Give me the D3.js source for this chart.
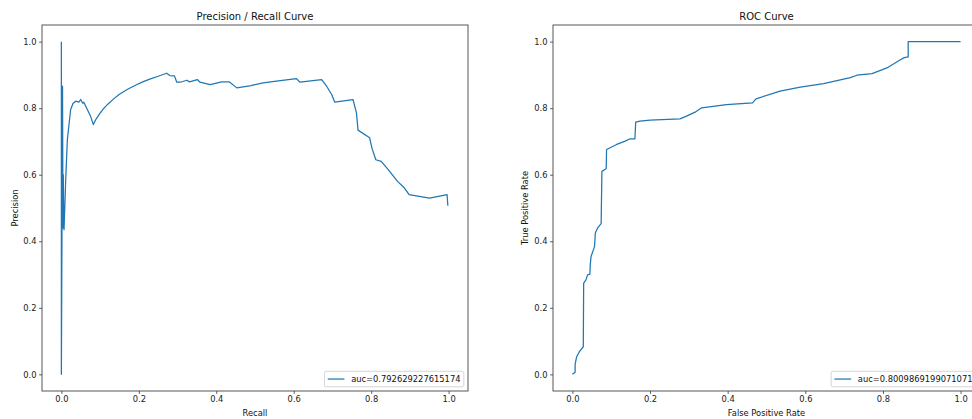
<!DOCTYPE html>
<html>
<head>
<meta charset="utf-8">
<script src="https://cdn.jsdelivr.net/npm/d3@7"></script>
<style>
  html, body { margin: 0; padding: 0; background: #fff; }
  svg { display: block; font-family: "DejaVu Sans", sans-serif; }
</style>
</head>
<body>
<svg id="chart" width="972" height="419"></svg>
<script>
// Precision / recall curve (recall on x, precision on y)
const prRecall = [0.000, 0.000, 0.0025, 0.003, 0.004, 0.0045, 0.005, 0.006, 0.0069, 0.0112, 0.0155, 0.024, 0.030, 0.037, 0.045, 0.050, 0.055, 0.058, 0.067, 0.076, 0.0825, 0.090, 0.100, 0.110, 0.120, 0.135, 0.150, 0.170, 0.190, 0.210, 0.230, 0.250, 0.272, 0.280, 0.292, 0.298, 0.307, 0.324, 0.331, 0.351, 0.358, 0.384, 0.414, 0.434, 0.453, 0.490, 0.521, 0.560, 0.607, 0.616, 0.672, 0.685, 0.698, 0.706, 0.753, 0.762, 0.766, 0.796, 0.802, 0.812, 0.826, 0.843, 0.868, 0.886, 0.898, 0.924, 0.951, 0.996, 0.998];
const prPrecision = [1.000, 0.000, 0.667, 0.866, 0.500, 0.440, 0.600, 0.470, 0.435, 0.585, 0.706, 0.796, 0.814, 0.821, 0.818, 0.826, 0.815, 0.818, 0.796, 0.774, 0.751, 0.768, 0.785, 0.800, 0.812, 0.828, 0.842, 0.856, 0.868, 0.879, 0.888, 0.896, 0.905, 0.898, 0.897, 0.878, 0.878, 0.884, 0.879, 0.886, 0.878, 0.871, 0.879, 0.879, 0.861, 0.868, 0.876, 0.882, 0.889, 0.878, 0.886, 0.866, 0.841, 0.818, 0.826, 0.786, 0.734, 0.711, 0.680, 0.645, 0.640, 0.617, 0.580, 0.560, 0.540, 0.535, 0.530, 0.540, 0.507];

// ROC curve
const rocFpr = [0.000, 0.007, 0.007, 0.011, 0.018, 0.028, 0.029, 0.035, 0.039, 0.045, 0.046, 0.048, 0.057, 0.059, 0.065, 0.074, 0.076, 0.087, 0.088, 0.114, 0.136, 0.149, 0.161, 0.163, 0.174, 0.200, 0.277, 0.294, 0.316, 0.333, 0.397, 0.464, 0.473, 0.535, 0.587, 0.647, 0.716, 0.733, 0.772, 0.810, 0.844, 0.855, 0.865, 0.865, 1.000];
const rocTpr = [0.000, 0.006, 0.031, 0.053, 0.068, 0.083, 0.274, 0.284, 0.299, 0.301, 0.329, 0.354, 0.384, 0.425, 0.440, 0.453, 0.610, 0.618, 0.676, 0.691, 0.701, 0.708, 0.708, 0.758, 0.761, 0.764, 0.768, 0.776, 0.788, 0.801, 0.811, 0.816, 0.828, 0.851, 0.863, 0.874, 0.892, 0.899, 0.904, 0.921, 0.945, 0.952, 0.954, 1.000, 1.000];

const tickValues = [0.0, 0.2, 0.4, 0.6, 0.8, 1.0];
const panelTitles = ["Precision / Recall Curve", "ROC Curve"];
const xLabels = ["Recall", "False Positive Rate"];
const yLabels = ["Precision", "True Positive Rate"];
const legendLabels = ["auc=0.792629227615174", "auc=0.8009869199071071"];

const svg = d3.select("#chart");
const lineColor = "#1f77b4";
const fs = 8.33;

const panels = [
  { left: 42, top: 25, width: 426, height: 366, xs: prRecall, ys: prPrecision, ylabX: 15 },
  { left: 553, top: 25, width: 427, height: 366, xs: rocFpr, ys: rocTpr, ylabX: 525 }
];

panels.forEach((p, i) => {
  const x = d3.scaleLinear().domain([-0.05, 1.05]).range([p.left, p.left + p.width]);
  const y = d3.scaleLinear().domain([-0.05, 1.05]).range([p.top + p.height, p.top]);
  const g = svg.append("g");

  // axes
  const xAxis = d3.axisBottom(x).tickValues(tickValues).tickFormat(d3.format(".1f"))
    .tickSize(2.9).tickPadding(2.6);
  const yAxis = d3.axisLeft(y).tickValues(tickValues).tickFormat(d3.format(".1f"))
    .tickSize(2.9).tickPadding(2.6);

  const gx = g.append("g").attr("transform", `translate(0,${p.top + p.height})`).call(xAxis);
  const gy = g.append("g").attr("transform", `translate(${p.left},0)`).call(yAxis);
  [gx, gy].forEach(a => {
    a.select(".domain").remove();
    a.selectAll(".tick line").attr("stroke", "#333").attr("stroke-width", 0.8);
    a.selectAll(".tick text").attr("fill", "#222").style("font-size", fs + "px")
      .style("font-family", "DejaVu Sans");
  });

  // frame
  g.append("rect")
    .attr("x", p.left).attr("y", p.top)
    .attr("width", p.width).attr("height", p.height)
    .attr("fill", "none").attr("stroke", "#444").attr("stroke-width", 0.9);

  // curve
  const pts = p.xs.map((v, k) => [v, p.ys[k]]);
  g.append("path")
    .datum(pts)
    .attr("fill", "none")
    .attr("stroke", lineColor)
    .attr("stroke-width", 1.25)
    .attr("stroke-linejoin", "round")
    .attr("d", d3.line().x(d => x(d[0])).y(d => y(d[1])));

  // title and axis labels
  g.append("text")
    .attr("x", p.left + p.width / 2).attr("y", p.top - 5.5)
    .attr("text-anchor", "middle").attr("fill", "#111")
    .style("font-size", "10px").text(panelTitles[i]);

  g.append("text")
    .attr("x", p.left + p.width / 2).attr("y", p.top + p.height + 24.5)
    .attr("text-anchor", "middle").attr("fill", "#111")
    .style("font-size", fs + "px").text(xLabels[i]);

  g.append("text")
    .attr("transform", `translate(${p.ylabX},${p.top + p.height / 2}) rotate(-90)`)
    .attr("text-anchor", "middle").attr("dy", "0.35em").attr("fill", "#111")
    .style("font-size", fs + "px").text(yLabels[i]);

  // legend (lower right)
  const lg = g.append("g");
  const lt = lg.append("text").style("font-size", fs + "px").attr("fill", "#111")
    .text(legendLabels[i]);
  const tw = lt.node().getComputedTextLength();
  const pad = 3.3, handle = 16.7, gap = 6.7;
  const lw = pad + handle + gap + tw + pad;
  const lh = 15.5;
  const lx = p.left + p.width - 4.2 - lw;
  const ly = p.top + p.height - 4.2 - lh;
  lg.insert("rect", "text")
    .attr("x", lx).attr("y", ly).attr("width", lw).attr("height", lh)
    .attr("rx", 1.7).attr("fill", "#fff").attr("fill-opacity", 0.8)
    .attr("stroke", "#ccc").attr("stroke-width", 0.8);
  lg.insert("line", "text")
    .attr("x1", lx + pad).attr("x2", lx + pad + handle)
    .attr("y1", ly + lh / 2).attr("y2", ly + lh / 2)
    .attr("stroke", lineColor).attr("stroke-width", 1.25);
  lt.attr("x", lx + pad + handle + gap).attr("y", ly + lh / 2).attr("dy", "0.35em");
});
</script>
</body>
</html>
